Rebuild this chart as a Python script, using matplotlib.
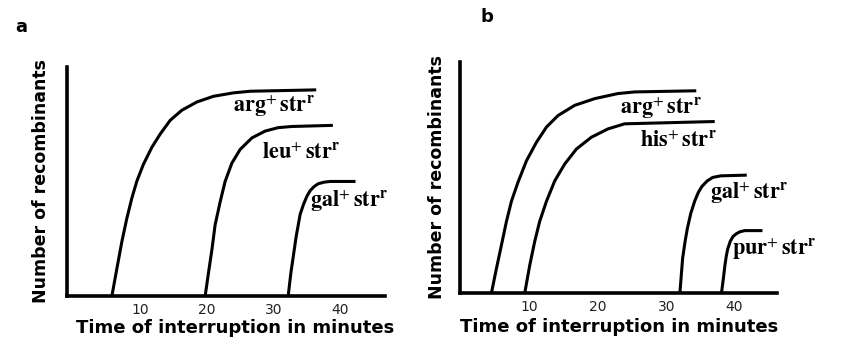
import matplotlib
matplotlib.use("Agg")
import matplotlib.pyplot as plt

plt.rcParams['mathtext.fontset'] = 'stix'

# values (time in minutes, relative number of recombinants)
ticks = [10, 20, 30, 40]

# panel a
a_arg_t = [5.76, 6.51, 7.26, 8.01, 8.76, 9.51, 10.49, 11.75, 13.0, 14.5, 16.25, 18.5, 21.0, 24.0, 26.5, 36.4]
a_arg_y = [0.0, 0.12, 0.238, 0.34, 0.428, 0.502, 0.575, 0.649, 0.707, 0.767, 0.811, 0.847, 0.872, 0.887, 0.894, 0.90]
a_leu_t = [19.75, 20.24, 20.75, 21.24, 21.99, 22.74, 23.75, 25.0, 26.75, 28.74, 30.7, 32.7, 38.9]
a_leu_y = [0.0, 0.10, 0.20, 0.31, 0.41, 0.50, 0.58, 0.64, 0.69, 0.72, 0.735, 0.74, 0.745]
a_gal_t = [32.2, 32.6, 33.0, 33.4, 34.0, 34.5, 35.0, 35.5, 36.1, 36.7, 37.6, 38.5, 42.3]
a_gal_y = [0.0, 0.10, 0.18, 0.26, 0.357, 0.40, 0.435, 0.46, 0.478, 0.49, 0.497, 0.50, 0.50]

# panel b
b_arg_t = [4.39, 5.12, 5.86, 6.59, 7.32, 8.29, 9.52, 10.98, 12.45, 14.15, 16.59, 19.52, 22.93, 25.4, 34.4]
b_arg_y = [0.0, 0.106, 0.208, 0.31, 0.397, 0.48, 0.572, 0.652, 0.718, 0.768, 0.812, 0.841, 0.863, 0.87, 0.875]
b_his_t = [9.27, 10.0, 10.73, 11.46, 12.45, 13.66, 15.12, 16.84, 19.03, 21.46, 23.9, 37.1]
b_his_y = [0.0, 0.12, 0.223, 0.31, 0.397, 0.485, 0.558, 0.623, 0.674, 0.71, 0.732, 0.742]
b_gal_t = [32.0, 32.4, 32.8, 33.1, 33.6, 34.2, 34.7, 35.2, 36.0, 36.8, 38.0, 41.8]
b_gal_y = [0.0, 0.15, 0.23, 0.28, 0.345, 0.40, 0.435, 0.46, 0.485, 0.50, 0.507, 0.51]
b_pur_t = [38.1, 38.4, 38.6, 38.8, 39.0, 39.4, 39.8, 40.3, 40.8, 41.5, 44.1]
b_pur_y = [0.0, 0.07, 0.12, 0.16, 0.19, 0.225, 0.245, 0.257, 0.265, 0.27, 0.27]

a_labels = [r'$\mathbf{arg}^{+}\,\mathbf{str}^{\mathbf{r}}$', r'$\mathbf{leu}^{+}\,\mathbf{str}^{\mathbf{r}}$',
            r'$\mathbf{gal}^{+}\,\mathbf{str}^{\mathbf{r}}$']
a_label_pos = [(23.9, 0.83), (28.3, 0.625), (35.5, 0.414)]
b_labels = [r'$\mathbf{arg}^{+}\,\mathbf{str}^{\mathbf{r}}$', r'$\mathbf{his}^{+}\,\mathbf{str}^{\mathbf{r}}$',
            r'$\mathbf{gal}^{+}\,\mathbf{str}^{\mathbf{r}}$', r'$\mathbf{pur}^{+}\,\mathbf{str}^{\mathbf{r}}$']
b_label_pos = [(23.2, 0.80), (26.1, 0.66), (36.4, 0.43), (39.7, 0.188)]

fig = plt.figure(figsize=(8.61, 3.64), dpi=100)
ax_a = fig.add_axes([0.078, 0.187, 0.369, 0.629])
ax_b = fig.add_axes([0.534, 0.195, 0.369, 0.635])


def style_axes(ax, xlim, ypad):
    ax.set_xlim(*xlim)
    ax.set_ylim(0, 1)
    for s in ['top', 'right']:
        ax.spines[s].set_visible(False)
    for s in ['left', 'bottom']:
        ax.spines[s].set_linewidth(2.6)
    ax.set_xticks(ticks)
    ax.set_xticklabels([str(t) for t in ticks], fontsize=10, color='#222222')
    ax.tick_params(axis='x', length=0, pad=5)
    ax.set_yticks([])
    ax.set_xlabel('Time of interruption in minutes', fontsize=13,
                  fontweight='bold', labelpad=3)
    ax.set_ylabel('Number of recombinants', fontsize=12.5, fontweight='bold',
                  labelpad=ypad)


style_axes(ax_a, (-0.95, 46.7), 12)
ax_a.xaxis.set_label_coords(0.53, -0.1)
for t, y in [(a_arg_t, a_arg_y), (a_leu_t, a_leu_y), (a_gal_t, a_gal_y)]:
    ax_a.plot(t, y, color='black', lw=2.2, solid_capstyle='butt', clip_on=False)
for lab, (x, y) in zip(a_labels, a_label_pos):
    ax_a.text(x, y, lab, fontsize=16, va='center', ha='left')

style_axes(ax_b, (-0.25, 46.3), 10)
for t, y in [(b_arg_t, b_arg_y), (b_his_t, b_his_y), (b_gal_t, b_gal_y), (b_pur_t, b_pur_y)]:
    ax_b.plot(t, y, color='black', lw=2.2, solid_capstyle='butt', clip_on=False)
for lab, (x, y) in zip(b_labels, b_label_pos):
    ax_b.text(x, y, lab, fontsize=16, va='center', ha='left')

fig.text(21 / 861, 1 - 27 / 364, 'a', fontsize=13, fontweight='bold', ha='center', va='center')
fig.text(487 / 861, 1 - 17 / 364, 'b', fontsize=13, fontweight='bold', ha='center', va='center')

fig.savefig('out.png', dpi=100)
